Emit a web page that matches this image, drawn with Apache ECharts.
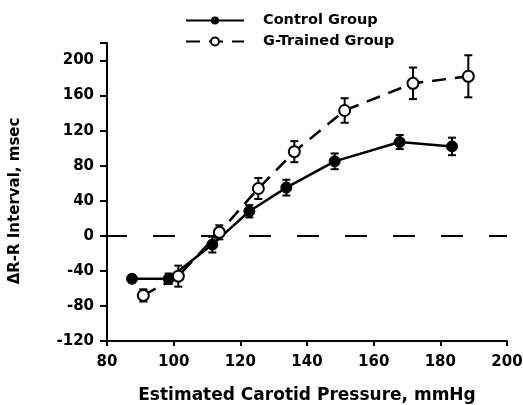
<!DOCTYPE html>
<html><head><meta charset="utf-8">
<script src="https://cdn.jsdelivr.net/npm/echarts@6/dist/echarts.min.js"></script>
<style>html,body{margin:0;padding:0;background:#fff}#c{width:523px;height:405px}</style>
</head><body><div id="c"></div>
<script>
var controlX = [87.5, 98.5, 111.6, 122.7, 133.8, 148.3, 167.8, 183.5];
var controlY = [-49, -49, -10, 28, 55, 85, 107, 102];
var controlErr = [4, 6, 9, 7, 9, 9, 8, 10];
var trainedX = [90.9, 101.4, 113.7, 125.4, 136.2, 151.3, 171.8, 188.4];
var trainedY = [-68, -46, 4, 54, 96, 143, 174, 182];
var trainedErr = [7, 12, 8, 12, 12, 14, 18, 24];
var xTicks = {min: 80, max: 200, interval: 20};
var yTicks = {min: -120, max: 220, interval: 40};

function pairs(xs, ys) { return xs.map(function (x, i) { return [x, ys[i]]; }); }
function errData(xs, ys, es) { return xs.map(function (x, i) { return [x, ys[i] - es[i], ys[i] + es[i]]; }); }
function errRender(params, api) {
  var x = api.value(0);
  var lo = api.coord([x, api.value(1)]);
  var hi = api.coord([x, api.value(2)]);
  var w = 4;
  var st = {stroke: '#000', lineWidth: 2, fill: null};
  return {type: 'group', children: [
    {type: 'line', shape: {x1: lo[0], y1: lo[1], x2: hi[0], y2: hi[1]}, style: st},
    {type: 'line', shape: {x1: lo[0] - w, y1: lo[1], x2: lo[0] + w, y2: lo[1]}, style: st},
    {type: 'line', shape: {x1: hi[0] - w, y1: hi[1], x2: hi[0] + w, y2: hi[1]}, style: st}
  ]};
}
var font = '"DejaVu Sans", "Liberation Sans", sans-serif';
var chart = echarts.init(document.getElementById('c'));
chart.setOption({
  animation: false,
  backgroundColor: '#fff',
  textStyle: {fontFamily: font},
  legend: {
    orient: 'vertical', left: 180, top: 8, itemWidth: 58, itemHeight: 10, itemGap: 6,
    textStyle: {fontFamily: font, fontWeight: 'bold', fontSize: 14.5, color: '#000', padding: [0, 0, 0, 14]},
    data: ['Control Group', 'G-Trained Group']
  },
  grid: {left: 107, right: 16, top: 43, bottom: 64, containLabel: false, outerBoundsMode: 'none'},
  xAxis: {
    type: 'value', min: xTicks.min, max: xTicks.max, interval: xTicks.interval,
    name: 'Estimated Carotid Pressure, mmHg', nameLocation: 'middle', nameGap: 46,
    nameTextStyle: {fontFamily: font, fontWeight: 'bold', fontSize: 17, color: '#000'},
    axisLine: {onZero: false, lineStyle: {color: '#000', width: 2}},
    axisTick: {length: 5, lineStyle: {color: '#000', width: 2}},
    axisLabel: {fontFamily: font, fontWeight: 'bold', fontSize: 15, color: '#000', margin: 14},
    splitLine: {show: false}
  },
  yAxis: {
    type: 'value', min: yTicks.min, max: yTicks.max, interval: yTicks.interval,
    name: '\u0394R-R Interval, msec', nameLocation: 'middle', nameGap: 84, nameRotate: 90,
    nameTextStyle: {fontFamily: font, fontWeight: 'bold', fontSize: 15, color: '#000', padding: [0, 18, 0, 0]},
    axisLine: {show: true, onZero: false, lineStyle: {color: '#000', width: 2}},
    axisTick: {show: true, length: 7, lineStyle: {color: '#000', width: 2}},
    axisLabel: {fontFamily: font, fontWeight: 'bold', fontSize: 15, color: '#000', margin: 13,
      formatter: function (v) { return v > 200 ? '' : String(v); }},
    splitLine: {show: false}
  },
  series: [
    {type: 'custom', name: 'errC', renderItem: errRender, data: errData(controlX, controlY, controlErr), z: 3, silent: true, encode: {x: 0, y: [1, 2]}},
    {type: 'custom', name: 'errT', renderItem: errRender, data: errData(trainedX, trainedY, trainedErr), z: 3, silent: true, encode: {x: 0, y: [1, 2]}},
    {
      type: 'line', name: 'Control Group', data: pairs(controlX, controlY), z: 4,
      symbol: 'circle', symbolSize: 11,
      lineStyle: {color: '#000', width: 2.5},
      itemStyle: {color: '#000', borderColor: '#000'},
      markLine: {
        silent: true, symbol: 'none', label: {show: false},
        lineStyle: {color: '#000', width: 2, type: [22, 26], dashOffset: 2},
        data: [[{coord: [80, 0]}, {coord: [200, 0]}]]
      }
    },
    {
      type: 'line', name: 'G-Trained Group', data: pairs(trainedX, trainedY), z: 5,
      symbol: 'circle', symbolSize: 11,
      lineStyle: {color: '#000', width: 2.5, type: [14, 9]},
      itemStyle: {color: '#fff', borderColor: '#000', borderWidth: 2}
    }
  ]
});
</script></body></html>
